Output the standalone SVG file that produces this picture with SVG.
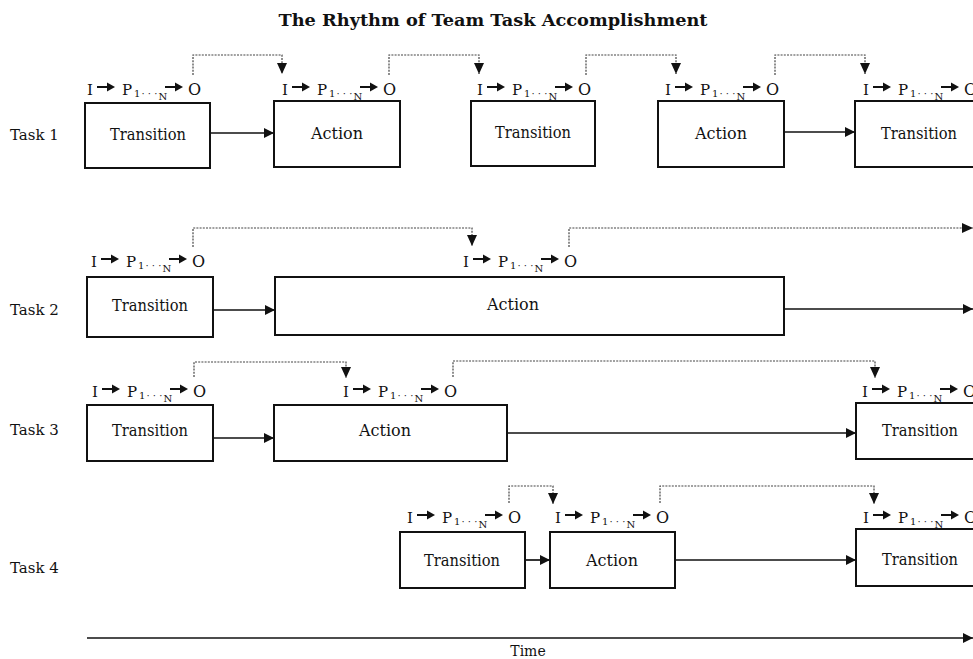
<svg xmlns="http://www.w3.org/2000/svg" xmlns:xlink="http://www.w3.org/1999/xlink" width="973" height="659" viewBox="0 0 973 659">
<style>
text { font-family: "DejaVu Serif", "Liberation Serif", serif; fill: #111; }
.title { font-size: 17px; font-weight: bold; text-anchor: middle; }
.task { font-size: 15px; }
.bt { font-size: 16px; text-anchor: middle; }
.lb { font-size: 15px; }
.sub { font-size: 10px; }
.o { font-size: 16px; }
.box { fill: #fff; stroke: #111; stroke-width: 2; }
.con { fill: none; stroke: #111; stroke-width: 1.7; marker-end: url(#ah); }
.dot { fill: none; stroke: #444; stroke-width: 1.2; stroke-dasharray: 2 1.2; marker-end: url(#dh); }
</style>
<defs>
<marker id="ah" viewBox="0 0 10 10" refX="10" refY="5" markerWidth="10" markerHeight="10" markerUnits="userSpaceOnUse" orient="auto"><path d="M0,0 L10,5 L0,10 z" fill="#111"/></marker>
<marker id="dh" viewBox="0 0 11 10" refX="11" refY="5" markerWidth="11" markerHeight="10" markerUnits="userSpaceOnUse" orient="auto"><path d="M0,0 L11,5 L0,10 z" fill="#111"/></marker>
<g id="sa"><path d="M0,0 H11" stroke="#111" stroke-width="2"/><path d="M10,-4.5 L18,0 L10,4.5 z" fill="#111"/></g>
</defs>
<rect width="973" height="659" fill="#fff"/>
<text class="title" x="493" y="26" textLength="429" lengthAdjust="spacingAndGlyphs">The Rhythm of Team Task Accomplishment</text>
<g id="task-labels">
<text class="task" x="10" y="140">Task 1</text>
<text class="task" x="10" y="315">Task 2</text>
<text class="task" x="10" y="435">Task 3</text>
<text class="task" x="10" y="573">Task 4</text>
</g>
<g id="connectors">
<path class="con" d="M210,133 H274"/>
<path class="con" d="M784,132 H855"/>
<path class="con" d="M213,310 H275"/>
<path class="con" d="M784,309 H973"/>
<path class="con" d="M213,438 H274"/>
<path class="con" d="M507,433 H856"/>
<path class="con" d="M525,560 H550"/>
<path class="con" d="M675,560 H856"/>
<path class="dot" d="M193,75 V55 H282 V74"/>
<path class="dot" d="M389,75 V55 H479 V74"/>
<path class="dot" d="M586,75 V55 H676 V74"/>
<path class="dot" d="M775,75 V55 H865 V74"/>
<path class="dot" d="M193,247 V228 H472 V246"/>
<path class="dot" d="M569,247 V228 H973"/>
<path class="dot" d="M194,377 V362 H346 V378"/>
<path class="dot" d="M453,377 V361 H875 V378"/>
<path class="dot" d="M509,503 V486 H553 V504"/>
<path class="dot" d="M660,503 V486 H874 V504"/>
</g>
<g id="t1-transition-1">
<rect class="box" x="85" y="103" width="125" height="65"/>
<text class="bt" x="148" y="140" textLength="76" lengthAdjust="spacingAndGlyphs">Transition</text>
<text class="lb" x="87" y="95">I</text><use xlink:href="#sa" x="97" y="87"/>
<text class="lb" x="122" y="95">P<tspan class="sub" dx="2" dy="2">1</tspan><tspan class="sub" dx="1">· · ·</tspan><tspan class="sub" dx="1" dy="3">N</tspan></text>
<use xlink:href="#sa" x="165" y="87"/><text class="o" x="188" y="95">O</text>
</g>
<g id="t1-action-1">
<rect class="box" x="274" y="101" width="126" height="66"/>
<text class="bt" x="337" y="139">Action</text>
<text class="lb" x="282" y="95">I</text><use xlink:href="#sa" x="292" y="87"/>
<text class="lb" x="317" y="95">P<tspan class="sub" dx="2" dy="2">1</tspan><tspan class="sub" dx="1">· · ·</tspan><tspan class="sub" dx="1" dy="3">N</tspan></text>
<use xlink:href="#sa" x="360" y="87"/><text class="o" x="383" y="95">O</text>
</g>
<g id="t1-transition-2">
<rect class="box" x="471" y="101" width="124" height="65"/>
<text class="bt" x="533" y="138" textLength="76" lengthAdjust="spacingAndGlyphs">Transition</text>
<text class="lb" x="477" y="95">I</text><use xlink:href="#sa" x="487" y="87"/>
<text class="lb" x="512" y="95">P<tspan class="sub" dx="2" dy="2">1</tspan><tspan class="sub" dx="1">· · ·</tspan><tspan class="sub" dx="1" dy="3">N</tspan></text>
<use xlink:href="#sa" x="555" y="87"/><text class="o" x="578" y="95">O</text>
</g>
<g id="t1-action-2">
<rect class="box" x="658" y="101" width="126" height="66"/>
<text class="bt" x="721" y="139">Action</text>
<text class="lb" x="665" y="95">I</text><use xlink:href="#sa" x="675" y="87"/>
<text class="lb" x="700" y="95">P<tspan class="sub" dx="2" dy="2">1</tspan><tspan class="sub" dx="1">· · ·</tspan><tspan class="sub" dx="1" dy="3">N</tspan></text>
<use xlink:href="#sa" x="743" y="87"/><text class="o" x="766" y="95">O</text>
</g>
<g id="t1-transition-3">
<rect class="box" x="855" y="101" width="130" height="66"/>
<text class="bt" x="919" y="139" textLength="76" lengthAdjust="spacingAndGlyphs">Transition</text>
<text class="lb" x="863" y="95">I</text><use xlink:href="#sa" x="873" y="87"/>
<text class="lb" x="898" y="95">P<tspan class="sub" dx="2" dy="2">1</tspan><tspan class="sub" dx="1">· · ·</tspan><tspan class="sub" dx="1" dy="3">N</tspan></text>
<use xlink:href="#sa" x="941" y="87"/><text class="o" x="964" y="95">O</text>
</g>
<g id="t2-transition-1">
<rect class="box" x="87" y="277" width="126" height="60"/>
<text class="bt" x="150" y="311" textLength="76" lengthAdjust="spacingAndGlyphs">Transition</text>
<text class="lb" x="91" y="267">I</text><use xlink:href="#sa" x="101" y="259"/>
<text class="lb" x="126" y="267">P<tspan class="sub" dx="2" dy="2">1</tspan><tspan class="sub" dx="1">· · ·</tspan><tspan class="sub" dx="1" dy="3">N</tspan></text>
<use xlink:href="#sa" x="169" y="259"/><text class="o" x="192" y="267">O</text>
</g>
<g id="t2-action-1">
<rect class="box" x="275" y="277" width="509" height="58"/>
<text class="bt" x="513" y="310">Action</text>
<text class="lb" x="463" y="267">I</text><use xlink:href="#sa" x="473" y="259"/>
<text class="lb" x="498" y="267">P<tspan class="sub" dx="2" dy="2">1</tspan><tspan class="sub" dx="1">· · ·</tspan><tspan class="sub" dx="1" dy="3">N</tspan></text>
<use xlink:href="#sa" x="541" y="259"/><text class="o" x="564" y="267">O</text>
</g>
<g id="t3-transition-1">
<rect class="box" x="87" y="405" width="126" height="56"/>
<text class="bt" x="150" y="436" textLength="76" lengthAdjust="spacingAndGlyphs">Transition</text>
<text class="lb" x="92" y="397">I</text><use xlink:href="#sa" x="102" y="389"/>
<text class="lb" x="127" y="397">P<tspan class="sub" dx="2" dy="2">1</tspan><tspan class="sub" dx="1">· · ·</tspan><tspan class="sub" dx="1" dy="3">N</tspan></text>
<use xlink:href="#sa" x="170" y="389"/><text class="o" x="193" y="397">O</text>
</g>
<g id="t3-action-1">
<rect class="box" x="274" y="405" width="233" height="56"/>
<text class="bt" x="385" y="436">Action</text>
<text class="lb" x="343" y="397">I</text><use xlink:href="#sa" x="353" y="389"/>
<text class="lb" x="378" y="397">P<tspan class="sub" dx="2" dy="2">1</tspan><tspan class="sub" dx="1">· · ·</tspan><tspan class="sub" dx="1" dy="3">N</tspan></text>
<use xlink:href="#sa" x="421" y="389"/><text class="o" x="444" y="397">O</text>
</g>
<g id="t3-transition-2">
<rect class="box" x="856" y="403" width="130" height="56"/>
<text class="bt" x="920" y="436" textLength="76" lengthAdjust="spacingAndGlyphs">Transition</text>
<text class="lb" x="862" y="397">I</text><use xlink:href="#sa" x="872" y="389"/>
<text class="lb" x="897" y="397">P<tspan class="sub" dx="2" dy="2">1</tspan><tspan class="sub" dx="1">· · ·</tspan><tspan class="sub" dx="1" dy="3">N</tspan></text>
<use xlink:href="#sa" x="940" y="389"/><text class="o" x="963" y="397">O</text>
</g>
<g id="t4-transition-1">
<rect class="box" x="400" y="532" width="125" height="56"/>
<text class="bt" x="462" y="566" textLength="76" lengthAdjust="spacingAndGlyphs">Transition</text>
<text class="lb" x="407" y="523">I</text><use xlink:href="#sa" x="417" y="515"/>
<text class="lb" x="442" y="523">P<tspan class="sub" dx="2" dy="2">1</tspan><tspan class="sub" dx="1">· · ·</tspan><tspan class="sub" dx="1" dy="3">N</tspan></text>
<use xlink:href="#sa" x="485" y="515"/><text class="o" x="508" y="523">O</text>
</g>
<g id="t4-action-1">
<rect class="box" x="550" y="532" width="125" height="56"/>
<text class="bt" x="612" y="566">Action</text>
<text class="lb" x="555" y="523">I</text><use xlink:href="#sa" x="565" y="515"/>
<text class="lb" x="590" y="523">P<tspan class="sub" dx="2" dy="2">1</tspan><tspan class="sub" dx="1">· · ·</tspan><tspan class="sub" dx="1" dy="3">N</tspan></text>
<use xlink:href="#sa" x="633" y="515"/><text class="o" x="656" y="523">O</text>
</g>
<g id="t4-transition-2">
<rect class="box" x="856" y="529" width="130" height="57"/>
<text class="bt" x="920" y="565" textLength="76" lengthAdjust="spacingAndGlyphs">Transition</text>
<text class="lb" x="863" y="523">I</text><use xlink:href="#sa" x="873" y="515"/>
<text class="lb" x="898" y="523">P<tspan class="sub" dx="2" dy="2">1</tspan><tspan class="sub" dx="1">· · ·</tspan><tspan class="sub" dx="1" dy="3">N</tspan></text>
<use xlink:href="#sa" x="941" y="515"/><text class="o" x="964" y="523">O</text>
</g>
<g id="time-axis">
<path class="con" d="M87,638 H973"/>
<text class="bt" x="528" y="656" style="font-size:14px">Time</text>
</g>
</svg>
